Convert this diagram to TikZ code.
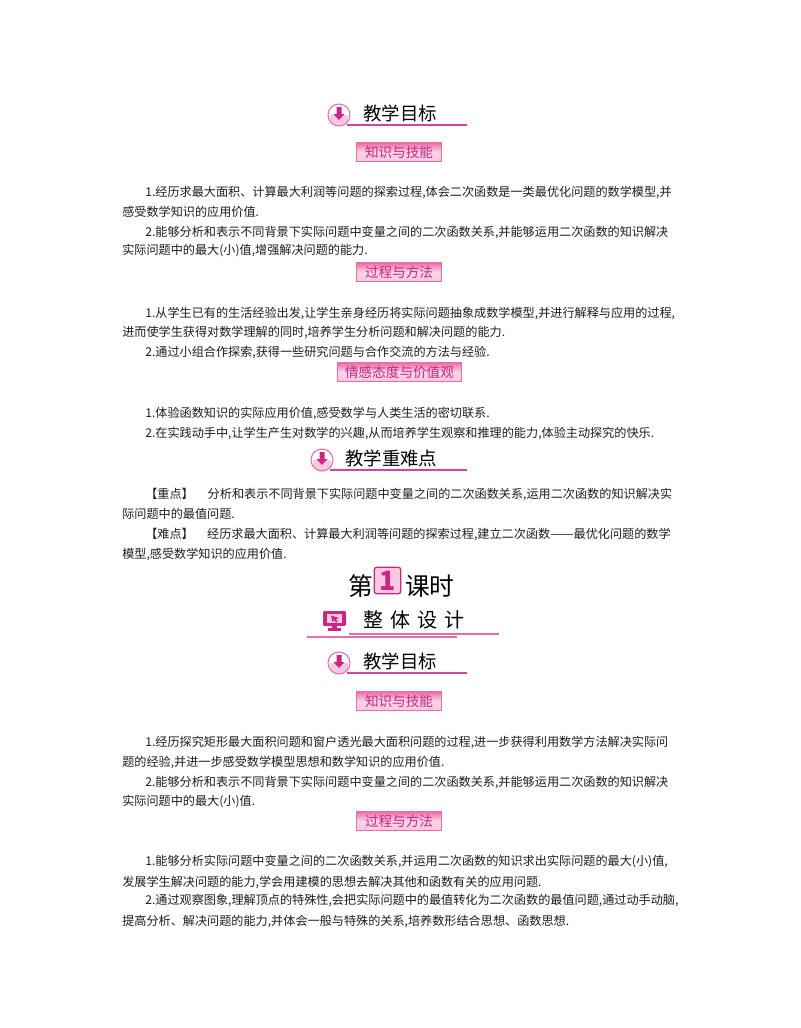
\documentclass[tikz,border=0pt]{standalone}
\usepackage{fontspec}
\setmainfont{Noto Sans CJK SC}
\usetikzlibrary{calc}
\definecolor{mypink}{RGB}{200,40,130}
\definecolor{mylightpink}{RGB}{248,200,225}
\definecolor{mymidpink}{RGB}{232,110,165}
\definecolor{mytext}{RGB}{30,30,30}
\newcommand{\bodysize}{\fontsize{9.1pt}{11pt}\selectfont}
\tikzset{
    common/.style={anchor=west, inner sep=0pt, text=mytext},
    bodyline/.style={common, font=\bodysize, yshift=-0.75pt},
    headtext/.style={common, text=black, font=\fontsize{13.8pt}{16pt}\selectfont},
    bignum/.style={common, text=black, font=\fontsize{18.5pt}{24pt}\selectfont},
    rulepink/.style={color=mypink!85!white, line width=0.9pt},
    rulelight/.style={color=mymidpink, line width=0.8pt},
    banner/.style={draw=mymidpink, line width=0.6pt, minimum height=14.2pt, inner sep=0pt,
        top color=mymidpink, bottom color=mylightpink, middle color=mylightpink!80!white,
        text=mypink, font=\fontsize{10.2pt}{13pt}\selectfont},
}
% heading with the round arrow sign: name, circle x, circle y, text x, end of rule, text
\newcommand{\headsign}[6]{
    \coordinate (#1-c) at (#2,#3);
    \begin{scope}
        \clip (#1-c) circle [radius=11];
        \fill[mylightpink] ($(#1-c)+(-9,0)$) rectangle ($(#1-c)+(9,11)$);
    \end{scope}
    \draw[mymidpink, line width=0.8pt] (#1-c) circle [radius=11];
    \fill[mypink] ($(#1-c)+(-2.5,-8)$) -- ($(#1-c)+(2.5,-8)$) -- ($(#1-c)+(2.5,-1)$) -- ($(#1-c)+(5.5,-1)$)
        -- ($(#1-c)+(0,5)$) -- ($(#1-c)+(-5.5,-1)$) -- ($(#1-c)+(-2.5,-1)$) -- cycle;
    \node[headtext] (#1-text) at (#4,#3-2) {#6};
    \coordinate (#1-left) at (#2+8,#3+10);
    \coordinate (#1-right) at (#5,#3+10);
    \draw[rulepink] (#1-left) -- (#1-right);
}
\begin{document}
\begin{tikzpicture}[x=0.75pt, y=-0.75pt]
    \useasboundingbox[fill=white] (0,0) rectangle (800,1028);

    \headsign{headA}{339}{115}{363}{467}{教学目标}
    \node[banner, minimum width=64pt] (knowA) at (399,152) {知识与技能};

    \node[bodyline] (a1) at (145,191) {1.经历求最大面积、计算最大利润等问题的探索过程,体会二次函数是一类最优化问题的数学模型,并};
    \node[bodyline] (a2) at (122,211) {感受数学知识的应用价值.};
    \node[bodyline] (a3) at (145,231) {2.能够分析和表示不同背景下实际问题中变量之间的二次函数关系,并能够运用二次函数的知识解决};
    \node[bodyline] (a4) at (122,250) {实际问题中的最大(小)值,增强解决问题的能力.};

    \node[banner, minimum width=64pt] (wayA) at (399,272) {过程与方法};

    \node[bodyline] (b1) at (145,312) {1.从学生已有的生活经验出发,让学生亲身经历将实际问题抽象成数学模型,并进行解释与应用的过程,};
    \node[bodyline] (b2) at (122,331) {进而使学生获得对数学理解的同时,培养学生分析问题和解决问题的能力.};
    \node[bodyline] (b3) at (145,351) {2.通过小组合作探索,获得一些研究问题与合作交流的方法与经验.};

    \node[banner, minimum width=93pt] (feel) at (399.5,372) {情感态度与价值观};

    \node[bodyline] (c1) at (145,412) {1.体验函数知识的实际应用价值,感受数学与人类生活的密切联系.};
    \node[bodyline] (c2) at (145,432) {2.在实践动手中,让学生产生对数学的兴趣,从而培养学生观察和推理的能力,体验主动探究的快乐.};

    \headsign{headB}{322}{460}{345}{467}{教学重难点}

    \node[bodyline] (d1) at (145,493) {【重点】\hspace{1.15em}分析和表示不同背景下实际问题中变量之间的二次函数关系,运用二次函数的知识解决实};
    \node[bodyline] (d2) at (122,513) {际问题中的最值问题.};
    \node[bodyline] (d3) at (145,533) {【难点】\hspace{1.1em}经历求最大面积、计算最大利润等问题的探索过程,建立二次函数\scalebox{1.15}[1]{——}最优化问题的数学};
    \node[bodyline] (d4) at (122,553) {模型,感受数学知识的应用价值.};

    \node[bignum] (di) at (348,586) {第};
    \node[draw=mypink, line width=0.9pt, rounded corners=2pt, fill=mylightpink, minimum size=20pt, inner sep=0pt,
        text=mypink, font=\bfseries\fontsize{20pt}{24pt}\selectfont] (num) at (387.5,580.5) {1};
    \node[bignum] (keshi) at (405,586) {课时};

    % monitor sign
    \fill[mypink, rounded corners=1pt] (323,611) rectangle (346,626);
    \fill[mylightpink] (327,614) rectangle (342,623);
    \fill[mypink] (331,615.5) -- (339,618) -- (336,619) -- (338,622) -- (336,622.5) -- (334,620) -- (332.5,622) -- cycle;
    \fill[mypink] (332,626) rectangle (337,628);
    \fill[mypink] (328,628) rectangle (341,631);
    \node[headtext, font=\fontsize{15pt}{18pt}\selectfont] (design) at (363,620) {整\hspace{0.35em}体\hspace{0.35em}设\hspace{0.35em}计};
    \coordinate (upper-left) at (349,634);
    \coordinate (upper-right) at (499,634);
    \coordinate (lower-left) at (307,637);
    \coordinate (lower-right) at (457,637);
    \draw[rulelight] (upper-left) -- (upper-right);
    \draw[rulelight] (lower-left) -- (lower-right);

    \headsign{headC}{339}{663}{363}{467}{教学目标}
    \node[banner, minimum width=64pt] (knowB) at (399,701) {知识与技能};

    \node[bodyline] (e1) at (145,741) {1.经历探究矩形最大面积问题和窗户透光最大面积问题的过程,进一步获得利用数学方法解决实际问};
    \node[bodyline] (e2) at (122,761) {题的经验,并进一步感受数学模型思想和数学知识的应用价值.};
    \node[bodyline] (e3) at (145,781) {2.能够分析和表示不同背景下实际问题中变量之间的二次函数关系,并能够运用二次函数的知识解决};
    \node[bodyline] (e4) at (122,801) {实际问题中的最大(小)值.};

    \node[banner, minimum width=64pt] (wayB) at (399,821) {过程与方法};

    \node[bodyline] (f1) at (145,861) {1.能够分析实际问题中变量之间的二次函数关系,并运用二次函数的知识求出实际问题的最大(小)值,};
    \node[bodyline] (f2) at (122,881) {发展学生解决问题的能力,学会用建模的思想去解决其他和函数有关的应用问题.};
    \node[bodyline] (f3) at (145,900) {2.通过观察图象,理解顶点的特殊性,会把实际问题中的最值转化为二次函数的最值问题,通过动手动脑,};
    \node[bodyline] (f4) at (122,920) {提高分析、解决问题的能力,并体会一般与特殊的关系,培养数形结合思想、函数思想.};
\end{tikzpicture}
\end{document}
